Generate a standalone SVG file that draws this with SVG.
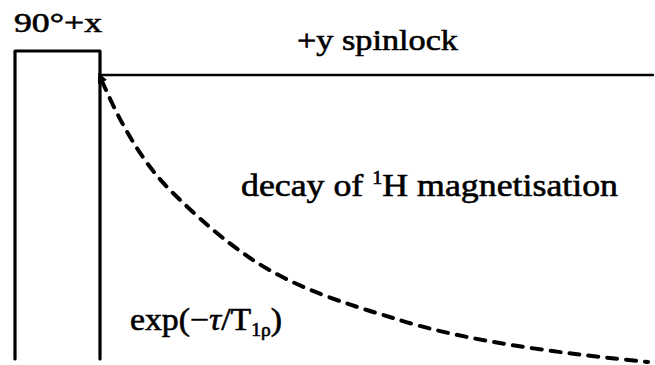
<svg xmlns="http://www.w3.org/2000/svg" width="655" height="365" viewBox="0 0 655 365">
<style>
  .ln { fill: none; stroke: #000; stroke-linecap: round; }
  .txt { font-family: "Liberation Serif", "Times New Roman", serif; fill: #000; stroke: #000; stroke-width: 0.6; }
</style>
<defs>
  <marker id="tip" viewBox="0 0 10 10" refX="1" refY="5" markerWidth="2.5" markerHeight="2.5" orient="auto-start-reverse">
    <path d="M0,0 L10,5 L0,10 z" fill="#000"/>
  </marker>
</defs>
<rect width="655" height="365" fill="#fff"/>
<g id="pulse">
  <path class="ln" d="M15,359 L15,51 L100,51 L100,359" stroke-width="3.2" stroke-linejoin="round"/>
</g>
<g id="spinlock">
  <path class="ln" d="M100,75 L653,75" stroke-width="2.4"/>
</g>
<g id="connectors">
  <path class="ln" d="M102,81 C118,118 140,160 170,190 C200,220 225,241 250,258 C295,288.6 350,305 393,318 C470,343 570,354 648,362" stroke-width="4" stroke-dasharray="10,9" marker-start="url(#tip)"/>
</g>
<g id="labels">
  <text class="txt" x="14" y="32" font-size="28" textLength="88" lengthAdjust="spacingAndGlyphs">90°+x</text>
  <text class="txt" x="297" y="50" font-size="30" textLength="161" lengthAdjust="spacingAndGlyphs">+y spinlock</text>
  <text class="txt" x="241" y="196" font-size="32" textLength="377" lengthAdjust="spacingAndGlyphs">decay of <tspan font-size="18" dy="-12">1</tspan><tspan dy="12">H magnetisation</tspan></text>
  <text class="txt" x="130" y="330" font-size="31" textLength="152" lengthAdjust="spacingAndGlyphs">exp(−<tspan font-style="italic">τ</tspan>/T<tspan font-size="18" dy="6">1ρ</tspan><tspan dy="-6">)</tspan></text>
</g>
</svg>
